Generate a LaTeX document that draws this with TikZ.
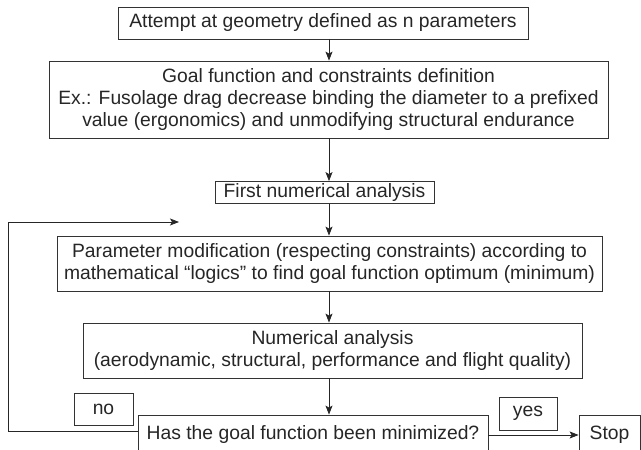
\documentclass[tikz,border=0pt]{standalone}
\usepackage{fontspec}
\setmainfont{Liberation Sans}
\usepackage{tikz}
\usetikzlibrary{arrows.meta}
\usetikzlibrary{calc}

\begin{document}
\begin{tikzpicture}[
    x = 1pt, y = 1pt,
    font = \fontsize{19.3}{22}\selectfont,
    box/.style = {
      draw = black!80, thick, text = black!85,
      inner sep = 0pt, align = center,
    },
  ]
  \useasboundingbox (0,0) rectangle (641,450);

  \node[box, minimum width = 410, minimum height = 32] (attempt) at (323,427)
    {Attempt at geometry defined as n parameters};
  \node[box, minimum width = 559, minimum height = 77] (goal) at (328.5,350.5)
    {Goal function and constraints definition\\
     Ex.: Fusolage drag decrease binding the diameter to a prefixed\\
     value (ergonomics) and unmodifying structural endurance};
  \node[box, minimum width = 219, minimum height = 22] (first) at (324.5,257.5)
    {First numerical analysis};
  \node[box, minimum width = 545, minimum height = 55] (modify) at (329.5,186.5)
    {Parameter modification (respecting constraints) according to\\
     mathematical “logics” to find goal function optimum (minimum)};
  \node[box, minimum width = 499, minimum height = 55] (analysis) at (332.5,99.5)
    {Numerical analysis\\
     (aerodynamic, structural, performance and flight quality)};
  \node[box, minimum width = 350, minimum height = 40] (has) at (313,15)
    {Has the goal function been minimized?};
  \node[box, minimum width = 61, minimum height = 40] (stop) at (609.5,15)
    {Stop};

  \node[box, minimum width = 59, minimum height = 32] (no) at (103.5,41) {no};
  \node[box, minimum width = 58, minimum height = 33] (yes) at (528,36.5) {yes};

  \coordinate (axis) at (329,0);
  \coordinate (turn) at (8,19);
  \coordinate (back) at (179,228);

  \begin{scope}[thick, draw = black!85,
                -{Stealth[length = 9pt, width = 7pt, inset = 2pt]}]
    \foreach \a/\b in {attempt/goal, goal/first, first/modify,
                       modify/analysis, analysis/has}
      \draw (\a.south -| axis) -- (\b.north -| axis);

    \draw (has) -- (stop);
    \draw (turn -| has.west) -- (turn) |- (back);
  \end{scope}
\end{tikzpicture}
\end{document}
